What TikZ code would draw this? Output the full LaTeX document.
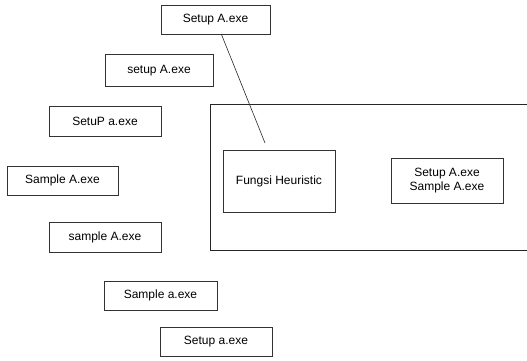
\documentclass[tikz,border=0pt]{standalone}
\usepackage{fontspec}
\setmainfont{Liberation Sans}
\begin{document}
\begin{tikzpicture}[x=1pt,y=-1pt,
  box/.style={draw=black!80,line width=0.6pt,rectangle,inner sep=0pt,
    font=\fontsize{12}{14}\selectfont,align=center},
  link/.style={draw=black!85,line width=0.6pt}]
\useasboundingbox (0,0) rectangle (527,360);
% outer frame, open at the right side
\draw[link] (529,104) -- (210,104) -- (210,250) -- (529,250);
% file-name boxes
\node[box,minimum width=109pt,minimum height=29pt] (n1) at (215.5,19.5) {Setup A.exe};
\node[box,minimum width=108pt,minimum height=32pt] (n2) at (159,70.5) {setup A.exe};
\node[box,minimum width=112pt,minimum height=30pt] (n3) at (105,121.5) {SetuP a.exe};
\node[box,minimum width=111pt,minimum height=29pt] (n4) at (62.5,180.5) {Sample A.exe};
\node[box,minimum width=112pt,minimum height=30pt] (n5) at (105,237) {sample A.exe};
\node[box,minimum width=113pt,minimum height=29pt] (n6) at (160.5,295.5) {Sample a.exe};
\node[box,minimum width=112pt,minimum height=29pt] (n7) at (216,341.5) {Setup a.exe};
% inner boxes
\node[box,minimum width=112pt,minimum height=62pt] (fh) at (279,181) {Fungsi Heuristic};
\node[box,minimum width=112pt,minimum height=45pt] (res) at (447,180.5) {Setup A.exe\\Sample A.exe};
% pointer line
\coordinate (tip) at (265,143);
\draw[link] (n1) -- (tip);
\end{tikzpicture}
\end{document}
